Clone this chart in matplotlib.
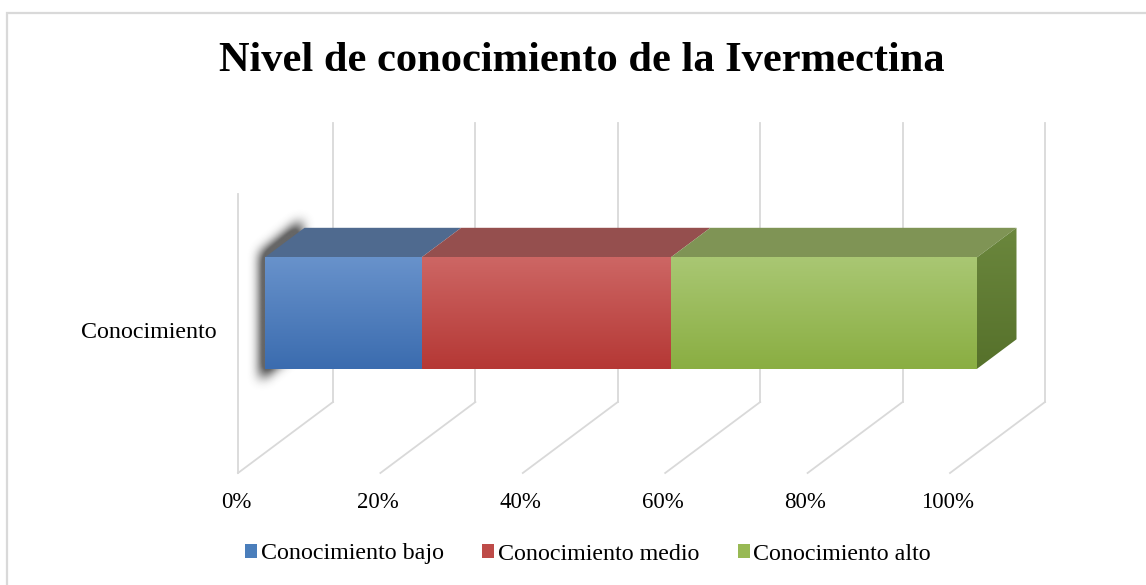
import matplotlib.pyplot as plt
import numpy as np
from matplotlib.patches import Polygon, Patch, Rectangle
from matplotlib.path import Path

plt.rcParams['font.family'] = ['Liberation Serif', 'DejaVu Serif']

title = "Nivel de conocimiento de la Ivermectina"
category = "Conocimiento"
series = ["Conocimiento bajo", "Conocimiento medio", "Conocimiento alto"]
values = [22, 35, 43]
ticks = [0, 20, 40, 60, 80, 100]
tick_labels = ["0%", "20%", "40%", "60%", "80%", "100%"]

# face colours: (front top, front bottom, top face, side top, side bottom)
face_colors = [
    ("#6892cb", "#3b6caf", "#4f6a8f", "#3f5f8c", "#2f4f7c"),
    ("#cd6664", "#b53835", "#954f4e", "#8c3a38", "#7a2c2a"),
    ("#a9c773", "#8aae42", "#7f9455", "#6b873d", "#56712b"),
]
legend_colors = ["#4a7ebb", "#be4b48", "#98b954"]

W, H = 1146, 585
PX = 7.12                      # pixels per percent
X0, Y0 = 238, H - 473          # front floor origin (pixels from left / bottom)
DX, DY = 95 / PX, 71 / PX      # depth offset of the floor
WALL_H = 279 / PX
T_FRONT, T_BACK = 0.284, 0.70
H_BOT, H_TOP = 84 / PX, 195.5 / PX


def proj(p, t, h):
    return p + DX * t, DY * t + h


fig = plt.figure(figsize=(W / 100, H / 100), dpi=100)
ax = fig.add_axes([0, 0, 1, 1])
ax.set_xlim(-X0 / PX, (W - X0) / PX)
ax.set_ylim(-Y0 / PX, (H - Y0) / PX)
ax.axis('off')

# chart frame
fig.patches.append(Rectangle((7 / W, -0.1), 1.2, (H - 13) / H + 0.1, transform=fig.transFigure,
                             fill=False, edgecolor="#d9d9d9", linewidth=1.6))

# grid: back wall verticals + floor diagonals
grid_kw = dict(color="#d9d9d9", linewidth=1.3, zorder=1)
for tk, lab in zip(ticks, tick_labels):
    xb, yb = proj(tk, 1, 0)
    xt, yt = proj(tk, 1, WALL_H)
    xf, yf = proj(tk, 0, 0)
    ax.plot([xb, xt], [yb, yt], **grid_kw)
    ax.plot([xf, xb], [yf, yb], **grid_kw)
    ax.text(xf - 0.3, yf - 29 / PX, lab, ha="center", va="center", fontsize=16.5)
xs, ys = proj(0, 0, 0)
xs2, ys2 = proj(0, 0, WALL_H)
ax.plot([xs, xs2], [ys, ys2], **grid_kw)

# category label
ax.text(xs - 3.0, ys + 140 / PX, category, ha="right", va="center", fontsize=17.3)

# blurred shadow on the left side of the bar
left_face = np.array([proj(0, T_FRONT, H_BOT), proj(0, T_FRONT, H_TOP),
                      proj(0, T_BACK, H_TOP), proj(0, T_BACK, H_BOT)])
ctr = left_face.mean(axis=0)
shadow_poly = (left_face - ctr) * [1.05, 1.14] + ctr + [-0.5, -0.2]
gx0, gx1 = ctr[0] - 12, ctr[0] + 12
gy0, gy1 = ctr[1] - 20, ctr[1] + 20
nx, ny = int((gx1 - gx0) * PX), int((gy1 - gy0) * PX)
gx, gy = np.meshgrid(np.linspace(gx0, gx1, nx), np.linspace(gy0, gy1, ny))
mask = Path(shadow_poly).contains_points(np.c_[gx.ravel(), gy.ravel()]).reshape(ny, nx).astype(float)
k = np.ones(11) / 11
for _ in range(3):
    mask = np.apply_along_axis(lambda m: np.convolve(m, k, mode='same'), 0, mask)
    mask = np.apply_along_axis(lambda m: np.convolve(m, k, mode='same'), 1, mask)
rgba = np.zeros((ny, nx, 4))
rgba[..., :3] = 0.2
rgba[..., 3] = np.clip(mask * 1.2, 0, 0.75)
ax.imshow(rgba, extent=(gx0, gx1, gy0, gy1), origin="lower", zorder=2, aspect="auto",
          interpolation="bilinear")


def gradient_face(verts, c_top, c_bot, z):
    poly = Polygon(verts, closed=True, facecolor="none", edgecolor="none")
    ax.add_patch(poly)
    vx, vy = verts[:, 0], verts[:, 1]
    top = np.array(plt.matplotlib.colors.to_rgb(c_top))
    bot = np.array(plt.matplotlib.colors.to_rgb(c_bot))
    f = np.linspace(0, 1, 64)[:, None]
    img = (bot * (1 - f) + top * f)[:, None, :]
    im = ax.imshow(img, extent=(vx.min(), vx.max(), vy.min(), vy.max()), origin="lower",
                   aspect="auto", zorder=z, interpolation="bilinear")
    im.set_clip_path(poly)


# stacked bar faces
start = 0
for i, v in enumerate(values):
    end = start + v
    c_ft, c_fb, c_top, c_st, c_sb = face_colors[i]
    front = np.array([proj(start, T_FRONT, H_BOT), proj(end, T_FRONT, H_BOT),
                      proj(end, T_FRONT, H_TOP), proj(start, T_FRONT, H_TOP)])
    gradient_face(front, c_ft, c_fb, 4)
    top = np.array([proj(start, T_FRONT, H_TOP), proj(end, T_FRONT, H_TOP),
                    proj(end, T_BACK, H_TOP), proj(start, T_BACK, H_TOP)])
    ax.add_patch(Polygon(top, closed=True, facecolor=c_top, edgecolor="none", zorder=3))
    if i == len(values) - 1:
        side = np.array([proj(end, T_FRONT, H_BOT), proj(end, T_BACK, H_BOT),
                         proj(end, T_BACK, H_TOP), proj(end, T_FRONT, H_TOP)])
        gradient_face(side, c_st, c_sb, 3)
    start = end

# title
fig.text(582 / W, 1 - 61 / H, title, ha="center", va="center", fontsize=30.6, fontweight="bold")

# legend
handles = [Patch(facecolor=c, edgecolor="none") for c in legend_colors]
fig.legend(handles, series, loc="center", bbox_to_anchor=(588 / W, 31 / H), ncol=3,
           frameon=False, fontsize=17.3, handlelength=0.5, handleheight=0.5,
           handletextpad=0.15, columnspacing=1.6)

fig.savefig("out.png", dpi=100)
